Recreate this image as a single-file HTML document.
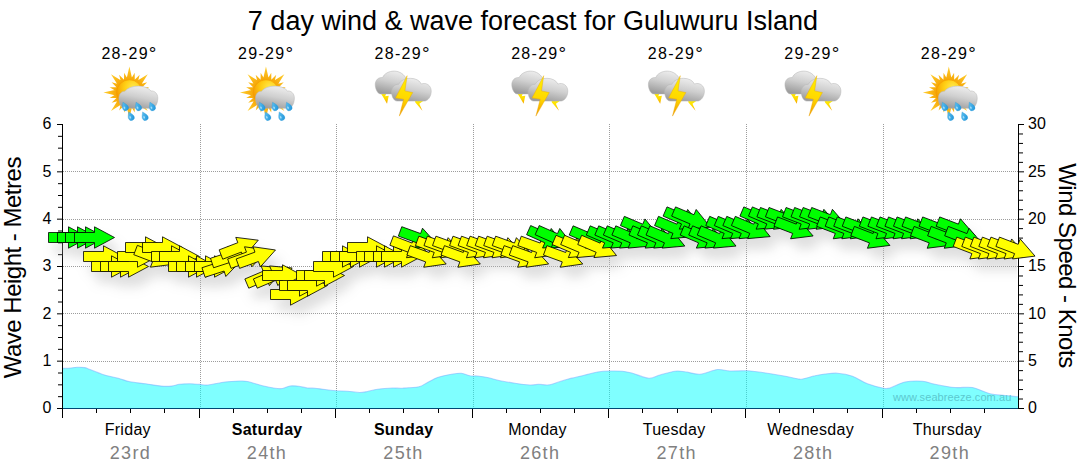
<!DOCTYPE html>
<html><head><meta charset="utf-8"><title>7 day wind &amp; wave forecast</title>
<style>
html,body{margin:0;padding:0;background:#fff}
body{width:1080px;height:475px;overflow:hidden}
svg{display:block}
text{font-family:"Liberation Sans",sans-serif}
</style></head><body>
<svg width="1080" height="475" viewBox="0 0 1080 475">
<defs>
<filter id="sh" x="-5%" y="-50%" width="110%" height="250%">
<feGaussianBlur in="SourceAlpha" stdDeviation="6" result="b"/>
<feOffset in="b" dx="6" dy="11" result="o"/>
<feComponentTransfer in="o" result="a"><feFuncA type="linear" slope="0.46"/></feComponentTransfer>
<feFlood flood-color="#b8b8b8" result="f"/>
<feComposite in="f" in2="a" operator="in"/>
</filter>
<polygon id="ar" points="-20,-5 0,-5 0,-10.7 20,0 0,10.7 0,5 -20,5" stroke="#000" stroke-linejoin="miter"/>

<linearGradient id="cg" x1="0.7" y1="0" x2="0.35" y2="1"><stop offset="0" stop-color="#f0f0f0"/><stop offset="0.5" stop-color="#cfcfcf"/><stop offset="1" stop-color="#9c9c9c"/></linearGradient>
<radialGradient id="sg" cx="0.65" cy="0.3" r="0.78"><stop offset="0" stop-color="#ffe94e"/><stop offset="0.45" stop-color="#ffcd12"/><stop offset="1" stop-color="#f28f00"/></radialGradient>
<radialGradient id="rg" cx="0.5" cy="0.5" r="0.5"><stop offset="0.4" stop-color="#f5a000"/><stop offset="1" stop-color="#ffd030"/></radialGradient>
<linearGradient id="dg" x1="0" y1="0" x2="1" y2="1"><stop offset="0" stop-color="#6ccaf4"/><stop offset="1" stop-color="#1a92da"/></linearGradient>
<linearGradient id="bg" x1="0.5" y1="0" x2="0.4" y2="1"><stop offset="0" stop-color="#fff000"/><stop offset="0.55" stop-color="#ffd800"/><stop offset="1" stop-color="#f09a00"/></linearGradient>
<g id="rain">
<path d="M132.7 81.1L129.4 66.6L126.1 81.1ZM134.8 82.1L134.7 72.8L130.0 80.8ZM137.3 83.9L139.7 74.8L133.0 81.4ZM139.9 86.8L147.8 74.2L135.2 82.1ZM140.6 89.0L147.2 82.3L138.1 84.7ZM141.2 92.0L149.2 87.3L139.9 87.2ZM140.9 95.9L155.4 92.6L140.9 89.3ZM139.9 98.0L149.2 97.9L141.2 93.2ZM138.1 100.5L147.2 102.8L140.6 96.2ZM135.2 103.1L147.8 111.0L139.9 98.4ZM133.0 103.8L139.7 110.4L137.3 101.3ZM130.0 104.4L134.7 112.4L134.8 103.1ZM126.1 104.1L129.4 118.6L132.7 104.1ZM124.0 103.1L124.1 112.4L128.8 104.4ZM121.5 101.3L119.2 110.4L125.8 103.8ZM118.9 98.4L111.0 111.0L123.6 103.1ZM118.2 96.2L111.6 102.8L120.7 100.5ZM117.6 93.2L109.6 97.9L118.9 98.0ZM117.9 89.3L103.4 92.6L117.9 95.9ZM118.9 87.2L109.6 87.3L117.6 92.0ZM120.7 84.7L111.6 82.3L118.2 89.0ZM123.6 82.1L111.0 74.2L118.9 86.8ZM125.8 81.4L119.1 74.8L121.5 83.9ZM128.8 80.8L124.1 72.8L124.0 82.1Z" fill="url(#rg)"/>
<circle cx="129.4" cy="92.6" r="12.8" fill="url(#sg)" stroke="#f39a00" stroke-width="0.6"/>
<path d="M124.5 108.3C121 108.3 118.9 102 118.9 98.5C118.9 94 121.5 91 125 91.2C127.5 88 132.5 86.1 138.4 86.1C144 86.1 148.5 88 151 91C154.5 90.5 157.8 93.5 157.8 98C157.8 104 155 108.3 151.5 108.3Z" fill="url(#cg)" stroke="#b4b4b4" stroke-width="0.5"/>
<g transform="translate(125.2,107.1) rotate(-25)"><path d="M0 -5.4C1.4 -3 3 -1.3 3 0.8A3 3 0 0 1 -3 0.8C-3 -1.3 -1.4 -3 0 -5.4Z" fill="url(#dg)" stroke="#2a94d6" stroke-width="0.3"/><ellipse cx="-0.9" cy="0.2" rx="0.8" ry="1.3" fill="#b9e6fb" opacity="0.8"/></g><g transform="translate(138.3,107.1) rotate(-25)"><path d="M0 -5.4C1.4 -3 3 -1.3 3 0.8A3 3 0 0 1 -3 0.8C-3 -1.3 -1.4 -3 0 -5.4Z" fill="url(#dg)" stroke="#2a94d6" stroke-width="0.3"/><ellipse cx="-0.9" cy="0.2" rx="0.8" ry="1.3" fill="#b9e6fb" opacity="0.8"/></g><g transform="translate(152.2,107.1) rotate(-25)"><path d="M0 -5.4C1.4 -3 3 -1.3 3 0.8A3 3 0 0 1 -3 0.8C-3 -1.3 -1.4 -3 0 -5.4Z" fill="url(#dg)" stroke="#2a94d6" stroke-width="0.3"/><ellipse cx="-0.9" cy="0.2" rx="0.8" ry="1.3" fill="#b9e6fb" opacity="0.8"/></g><g transform="translate(131.0,116.8) rotate(-25)"><path d="M0 -5.4C1.4 -3 3 -1.3 3 0.8A3 3 0 0 1 -3 0.8C-3 -1.3 -1.4 -3 0 -5.4Z" fill="url(#dg)" stroke="#2a94d6" stroke-width="0.3"/><ellipse cx="-0.9" cy="0.2" rx="0.8" ry="1.3" fill="#b9e6fb" opacity="0.8"/></g><g transform="translate(144.9,116.8) rotate(-25)"><path d="M0 -5.4C1.4 -3 3 -1.3 3 0.8A3 3 0 0 1 -3 0.8C-3 -1.3 -1.4 -3 0 -5.4Z" fill="url(#dg)" stroke="#2a94d6" stroke-width="0.3"/><ellipse cx="-0.9" cy="0.2" rx="0.8" ry="1.3" fill="#b9e6fb" opacity="0.8"/></g>
</g>
<g id="storm">
<polygon points="107.0,92.2 113.2,93.2 112.0,96.3 115.6,95.8 113.9,103.8 109.8,96.8" fill="url(#bg)"/>
<polygon points="141.8,100.5 150.0,100.9 146.2,103.7 149.3,110.8 142.2,102.4" fill="url(#bg)"/>
<path d="M107.5 93.9C104 93.9 102.1 88 102.1 84.5C102.1 80 105.5 77 109.5 77.6C111 73.5 116 71.1 121 71.1C126.5 71.1 131.5 74.5 133.5 79.5C138 79 141 82 141 86C141 90.5 138 93.9 134 93.9Z" fill="url(#cg)" stroke="#b4b4b4" stroke-width="0.5"/>
<path d="M124 101.1C120.5 101.1 118.4 96 118.4 92C118.4 87.5 121.5 84 125.5 84.3C127.5 80.5 132 78.3 137.3 78.3C142.5 78.3 146.5 80.5 148.2 84C153 82 158.1 85.5 158.1 91C158.1 97 154.5 101.1 151 101.1Z" fill="url(#cg)" stroke="#b4b4b4" stroke-width="0.5"/>
<polygon points="134.0,75.7 122.3,97.9 130.5,99.2 126.2,116.1 139.6,92.6 131.8,90.9" fill="url(#bg)" stroke="#eaa400" stroke-width="0.4"/>
</g>
</defs>
<rect width="1080" height="475" fill="#fff"/>
<text x="533" y="29.6" font-size="27" text-anchor="middle" fill="#000" id="title">7 day wind &amp; wave forecast for Guluwuru Island</text>
<text x="129.6" y="59" font-size="16" letter-spacing="1.3" text-anchor="middle" class="temp">28-29<tspan font-size="19" dy="0.7">°</tspan></text>
<use href="#rain" x="-0.01" y="0"/>
<text x="266.2" y="59" font-size="16" letter-spacing="1.3" text-anchor="middle" class="temp">29-29<tspan font-size="19" dy="0.7">°</tspan></text>
<use href="#rain" x="136.56" y="0"/>
<text x="402.7" y="59" font-size="16" letter-spacing="1.3" text-anchor="middle" class="temp">28-29<tspan font-size="19" dy="0.7">°</tspan></text>
<use href="#storm" x="273.13" y="0"/>
<text x="539.3" y="59" font-size="16" letter-spacing="1.3" text-anchor="middle" class="temp">28-29<tspan font-size="19" dy="0.7">°</tspan></text>
<use href="#storm" x="409.70" y="0"/>
<text x="675.9" y="59" font-size="16" letter-spacing="1.3" text-anchor="middle" class="temp">28-29<tspan font-size="19" dy="0.7">°</tspan></text>
<use href="#storm" x="546.27" y="0"/>
<text x="812.4" y="59" font-size="16" letter-spacing="1.3" text-anchor="middle" class="temp">29-29<tspan font-size="19" dy="0.7">°</tspan></text>
<use href="#storm" x="682.84" y="0"/>
<text x="949.0" y="59" font-size="16" letter-spacing="1.3" text-anchor="middle" class="temp">28-29<tspan font-size="19" dy="0.7">°</tspan></text>
<use href="#rain" x="819.41" y="0"/>
<g stroke="#9c9c9c" stroke-width="1" stroke-dasharray="1 1" shape-rendering="crispEdges" fill="none">
<path d="M63 361.5H1018"/>
<path d="M63 313.5H1018"/>
<path d="M63 266.5H1018"/>
<path d="M63 219.5H1018"/>
<path d="M63 171.5H1018"/>
<path d="M200.5 124V408"/>
<path d="M336.5 124V408"/>
<path d="M473.5 124V408"/>
<path d="M609.5 124V408"/>
<path d="M746.5 124V408"/>
<path d="M883.5 124V408"/>
</g>
<g stroke="#000" stroke-width="1" shape-rendering="crispEdges" fill="none">
<path d="M62.5 124V409"/>
<path d="M1018.5 124V409"/>
<path d="M62 408.5H1019"/>
</g>
<g stroke="#000" stroke-width="1" fill="none">
<path d="M57 408.5H62"/>
<path d="M58 396.67H62"/>
<path d="M58 384.83H62"/>
<path d="M58 373.0H62"/>
<path d="M57 361.17H62"/>
<path d="M58 349.33H62"/>
<path d="M58 337.5H62"/>
<path d="M58 325.67H62"/>
<path d="M57 313.83H62"/>
<path d="M58 302.0H62"/>
<path d="M58 290.17H62"/>
<path d="M58 278.33H62"/>
<path d="M57 266.5H62"/>
<path d="M58 254.67H62"/>
<path d="M58 242.83H62"/>
<path d="M58 231.0H62"/>
<path d="M57 219.17H62"/>
<path d="M58 207.33H62"/>
<path d="M58 195.5H62"/>
<path d="M58 183.67H62"/>
<path d="M57 171.83H62"/>
<path d="M58 160.0H62"/>
<path d="M58 148.17H62"/>
<path d="M58 136.33H62"/>
<path d="M57 124.5H62"/>
<path d="M1019 408.5H1024"/>
<path d="M1019 399.03H1023"/>
<path d="M1019 389.57H1023"/>
<path d="M1019 380.1H1023"/>
<path d="M1019 370.63H1023"/>
<path d="M1019 361.17H1024"/>
<path d="M1019 351.7H1023"/>
<path d="M1019 342.23H1023"/>
<path d="M1019 332.77H1023"/>
<path d="M1019 323.3H1023"/>
<path d="M1019 313.83H1024"/>
<path d="M1019 304.37H1023"/>
<path d="M1019 294.9H1023"/>
<path d="M1019 285.43H1023"/>
<path d="M1019 275.97H1023"/>
<path d="M1019 266.5H1024"/>
<path d="M1019 257.03H1023"/>
<path d="M1019 247.57H1023"/>
<path d="M1019 238.1H1023"/>
<path d="M1019 228.63H1023"/>
<path d="M1019 219.17H1024"/>
<path d="M1019 209.7H1023"/>
<path d="M1019 200.23H1023"/>
<path d="M1019 190.77H1023"/>
<path d="M1019 181.3H1023"/>
<path d="M1019 171.83H1024"/>
<path d="M1019 162.37H1023"/>
<path d="M1019 152.9H1023"/>
<path d="M1019 143.43H1023"/>
<path d="M1019 133.97H1023"/>
<path d="M1019 124.5H1024"/>
<path d="M62.5 408V418" shape-rendering="crispEdges"/>
<path d="M96.5 408V413" shape-rendering="crispEdges"/>
<path d="M130.5 408V413" shape-rendering="crispEdges"/>
<path d="M164.5 408V413" shape-rendering="crispEdges"/>
<path d="M199.5 408V418" shape-rendering="crispEdges"/>
<path d="M233.5 408V413" shape-rendering="crispEdges"/>
<path d="M267.5 408V413" shape-rendering="crispEdges"/>
<path d="M301.5 408V413" shape-rendering="crispEdges"/>
<path d="M335.5 408V418" shape-rendering="crispEdges"/>
<path d="M369.5 408V413" shape-rendering="crispEdges"/>
<path d="M403.5 408V413" shape-rendering="crispEdges"/>
<path d="M438.5 408V413" shape-rendering="crispEdges"/>
<path d="M472.5 408V418" shape-rendering="crispEdges"/>
<path d="M506.5 408V413" shape-rendering="crispEdges"/>
<path d="M540.5 408V413" shape-rendering="crispEdges"/>
<path d="M574.5 408V413" shape-rendering="crispEdges"/>
<path d="M608.5 408V418" shape-rendering="crispEdges"/>
<path d="M642.5 408V413" shape-rendering="crispEdges"/>
<path d="M677.5 408V413" shape-rendering="crispEdges"/>
<path d="M711.5 408V413" shape-rendering="crispEdges"/>
<path d="M745.5 408V418" shape-rendering="crispEdges"/>
<path d="M779.5 408V413" shape-rendering="crispEdges"/>
<path d="M813.5 408V413" shape-rendering="crispEdges"/>
<path d="M847.5 408V413" shape-rendering="crispEdges"/>
<path d="M882.5 408V418" shape-rendering="crispEdges"/>
<path d="M916.5 408V413" shape-rendering="crispEdges"/>
<path d="M950.5 408V413" shape-rendering="crispEdges"/>
<path d="M984.5 408V413" shape-rendering="crispEdges"/>
</g>
<path d="M63.0 368.4C64.2 368.3 68.1 368.2 70.4 368.0C72.7 367.8 74.5 367.4 76.9 367.3C79.3 367.2 82.7 367.3 84.6 367.6C86.5 367.9 85.5 367.8 88.5 368.9C91.5 370.0 97.8 372.8 102.8 374.4C107.8 376.0 113.8 377.1 118.3 378.3C122.8 379.5 125.5 380.9 130.0 381.8C134.6 382.7 140.4 383.1 145.6 383.8C150.8 384.5 156.8 385.7 161.1 386.1C165.4 386.5 168.5 386.4 171.5 386.1C174.5 385.8 176.3 384.7 179.3 384.3C182.3 383.9 186.2 383.8 189.6 383.8C193.0 383.8 196.9 384.2 200.0 384.4C203.1 384.6 203.8 385.4 208.0 385.0C212.2 384.6 219.7 382.7 225.0 382.0C230.3 381.3 236.2 381.1 240.0 381.0C243.8 380.9 243.8 380.7 247.5 381.5C251.2 382.3 257.9 384.6 262.5 385.8C267.1 386.9 271.7 387.8 275.0 388.2C278.3 388.7 280.0 388.9 282.5 388.5C285.0 388.1 287.3 386.4 290.0 386.0C292.7 385.6 295.8 385.9 298.8 386.2C301.7 386.6 304.8 387.7 307.5 388.0C310.2 388.3 312.1 388.0 315.0 388.2C317.9 388.5 321.5 389.1 325.0 389.5C328.5 389.9 332.5 390.5 336.2 390.8C340.0 391.0 343.5 391.0 347.5 391.2C351.5 391.5 356.7 392.5 360.0 392.5C363.3 392.5 364.6 392.0 367.5 391.5C370.4 391.0 373.3 389.8 377.5 389.2C381.7 388.7 388.3 388.2 392.5 388.0C396.7 387.8 398.1 388.5 402.5 388.2C406.9 388.0 414.6 387.7 418.8 386.8C422.9 385.8 424.4 384.0 427.5 382.5C430.6 381.0 433.8 378.8 437.5 377.5C441.2 376.2 446.0 375.2 450.0 374.5C454.0 373.8 457.9 373.0 461.2 373.2C464.6 373.5 467.3 375.3 470.0 375.8C472.7 376.2 474.6 375.7 477.5 376.0C480.4 376.3 483.8 376.7 487.5 377.5C491.2 378.3 495.4 379.8 500.0 380.8C504.6 381.7 510.0 382.5 515.0 383.2C520.0 384.0 526.0 384.8 530.0 385.0C534.0 385.2 535.8 384.2 538.8 384.2C541.7 384.2 544.8 385.2 547.5 385.0C550.2 384.8 551.7 384.2 555.0 383.2C558.3 382.3 564.2 380.2 567.5 379.2C570.8 378.3 572.1 378.2 575.0 377.5C577.9 376.8 581.2 375.9 585.0 375.0C588.8 374.1 593.3 372.7 597.5 372.0C601.7 371.3 605.8 371.1 610.0 371.0C614.2 370.9 618.8 370.9 622.5 371.2C626.2 371.6 628.1 372.1 632.5 373.2C636.9 374.4 644.2 378.0 648.8 378.2C653.3 378.5 655.6 376.2 660.0 375.0C664.4 373.8 670.8 371.8 675.0 371.2C679.2 370.7 680.8 371.2 685.0 371.8C689.2 372.2 694.6 374.6 700.0 374.2C705.4 373.9 712.5 370.0 717.5 369.5C722.5 369.0 725.0 370.8 730.0 371.0C735.0 371.2 742.1 370.5 747.5 370.8C752.9 371.0 756.7 371.7 762.5 372.5C768.3 373.3 776.7 374.7 782.5 375.8C788.3 376.8 794.2 378.2 797.5 378.8C800.8 379.3 799.6 379.5 802.5 379.0C805.4 378.5 811.2 376.6 815.0 375.8C818.8 374.9 821.2 374.4 825.0 374.0C828.8 373.6 832.9 372.9 837.5 373.2C842.1 373.6 847.5 374.5 852.5 376.2C857.5 378.0 862.5 381.8 867.5 383.8C872.5 385.7 878.8 387.3 882.5 388.0C886.2 388.7 886.2 389.0 890.0 388.0C893.8 387.0 899.6 383.1 905.0 382.0C910.4 380.9 917.5 380.9 922.5 381.2C927.5 381.6 929.6 383.2 935.0 384.2C940.4 385.3 948.8 387.0 955.0 387.5C961.2 388.0 966.7 386.5 972.5 387.5C978.3 388.5 984.6 392.4 990.0 393.8C995.4 395.1 1000.3 395.0 1005.0 395.5C1009.7 396.0 1015.8 396.5 1018.0 396.8L1018 408.5L63 408.5Z" fill="#00ffff" fill-opacity="0.5" stroke="none"/>
<path d="M63.0 368.4C64.2 368.3 68.1 368.2 70.4 368.0C72.7 367.8 74.5 367.4 76.9 367.3C79.3 367.2 82.7 367.3 84.6 367.6C86.5 367.9 85.5 367.8 88.5 368.9C91.5 370.0 97.8 372.8 102.8 374.4C107.8 376.0 113.8 377.1 118.3 378.3C122.8 379.5 125.5 380.9 130.0 381.8C134.6 382.7 140.4 383.1 145.6 383.8C150.8 384.5 156.8 385.7 161.1 386.1C165.4 386.5 168.5 386.4 171.5 386.1C174.5 385.8 176.3 384.7 179.3 384.3C182.3 383.9 186.2 383.8 189.6 383.8C193.0 383.8 196.9 384.2 200.0 384.4C203.1 384.6 203.8 385.4 208.0 385.0C212.2 384.6 219.7 382.7 225.0 382.0C230.3 381.3 236.2 381.1 240.0 381.0C243.8 380.9 243.8 380.7 247.5 381.5C251.2 382.3 257.9 384.6 262.5 385.8C267.1 386.9 271.7 387.8 275.0 388.2C278.3 388.7 280.0 388.9 282.5 388.5C285.0 388.1 287.3 386.4 290.0 386.0C292.7 385.6 295.8 385.9 298.8 386.2C301.7 386.6 304.8 387.7 307.5 388.0C310.2 388.3 312.1 388.0 315.0 388.2C317.9 388.5 321.5 389.1 325.0 389.5C328.5 389.9 332.5 390.5 336.2 390.8C340.0 391.0 343.5 391.0 347.5 391.2C351.5 391.5 356.7 392.5 360.0 392.5C363.3 392.5 364.6 392.0 367.5 391.5C370.4 391.0 373.3 389.8 377.5 389.2C381.7 388.7 388.3 388.2 392.5 388.0C396.7 387.8 398.1 388.5 402.5 388.2C406.9 388.0 414.6 387.7 418.8 386.8C422.9 385.8 424.4 384.0 427.5 382.5C430.6 381.0 433.8 378.8 437.5 377.5C441.2 376.2 446.0 375.2 450.0 374.5C454.0 373.8 457.9 373.0 461.2 373.2C464.6 373.5 467.3 375.3 470.0 375.8C472.7 376.2 474.6 375.7 477.5 376.0C480.4 376.3 483.8 376.7 487.5 377.5C491.2 378.3 495.4 379.8 500.0 380.8C504.6 381.7 510.0 382.5 515.0 383.2C520.0 384.0 526.0 384.8 530.0 385.0C534.0 385.2 535.8 384.2 538.8 384.2C541.7 384.2 544.8 385.2 547.5 385.0C550.2 384.8 551.7 384.2 555.0 383.2C558.3 382.3 564.2 380.2 567.5 379.2C570.8 378.3 572.1 378.2 575.0 377.5C577.9 376.8 581.2 375.9 585.0 375.0C588.8 374.1 593.3 372.7 597.5 372.0C601.7 371.3 605.8 371.1 610.0 371.0C614.2 370.9 618.8 370.9 622.5 371.2C626.2 371.6 628.1 372.1 632.5 373.2C636.9 374.4 644.2 378.0 648.8 378.2C653.3 378.5 655.6 376.2 660.0 375.0C664.4 373.8 670.8 371.8 675.0 371.2C679.2 370.7 680.8 371.2 685.0 371.8C689.2 372.2 694.6 374.6 700.0 374.2C705.4 373.9 712.5 370.0 717.5 369.5C722.5 369.0 725.0 370.8 730.0 371.0C735.0 371.2 742.1 370.5 747.5 370.8C752.9 371.0 756.7 371.7 762.5 372.5C768.3 373.3 776.7 374.7 782.5 375.8C788.3 376.8 794.2 378.2 797.5 378.8C800.8 379.3 799.6 379.5 802.5 379.0C805.4 378.5 811.2 376.6 815.0 375.8C818.8 374.9 821.2 374.4 825.0 374.0C828.8 373.6 832.9 372.9 837.5 373.2C842.1 373.6 847.5 374.5 852.5 376.2C857.5 378.0 862.5 381.8 867.5 383.8C872.5 385.7 878.8 387.3 882.5 388.0C886.2 388.7 886.2 389.0 890.0 388.0C893.8 387.0 899.6 383.1 905.0 382.0C910.4 380.9 917.5 380.9 922.5 381.2C927.5 381.6 929.6 383.2 935.0 384.2C940.4 385.3 948.8 387.0 955.0 387.5C961.2 388.0 966.7 386.5 972.5 387.5C978.3 388.5 984.6 392.4 990.0 393.8C995.4 395.1 1000.3 395.0 1005.0 395.5C1009.7 396.0 1015.8 396.5 1018.0 396.8" fill="none" stroke="#7aa8ff" stroke-opacity="0.5" stroke-width="1.1"/>
<path d="M63 408.5H1018" stroke="#0050a0" stroke-opacity="0.55" shape-rendering="crispEdges"/>
<text x="893" y="401" font-size="11" fill="#5cc9cf" id="wm" letter-spacing="0.08">www.seabreeze.com.au</text>
<text x="51.5" y="413.2" font-size="16" text-anchor="end">0</text>
<text x="51.5" y="365.9" font-size="16" text-anchor="end">1</text>
<text x="51.5" y="318.5" font-size="16" text-anchor="end">2</text>
<text x="51.5" y="271.2" font-size="16" text-anchor="end">3</text>
<text x="51.5" y="223.9" font-size="16" text-anchor="end">4</text>
<text x="51.5" y="176.5" font-size="16" text-anchor="end">5</text>
<text x="51.5" y="129.2" font-size="16" text-anchor="end">6</text>
<text x="1028" y="413.2" font-size="16">0</text>
<text x="1028" y="365.9" font-size="16">5</text>
<text x="1028" y="318.5" font-size="16">10</text>
<text x="1028" y="271.2" font-size="16">15</text>
<text x="1028" y="223.9" font-size="16">20</text>
<text x="1028" y="176.5" font-size="16">25</text>
<text x="1028" y="129.2" font-size="16">30</text>
<text x="127.8" y="435" font-size="16" text-anchor="middle" letter-spacing="0.3" class="day">Friday</text>
<text x="130.4" y="459" font-size="18" text-anchor="middle" fill="#808080" letter-spacing="1.35" class="dnum">23rd</text>
<text x="267.1" y="435" font-size="16" text-anchor="middle" font-weight="bold" letter-spacing="0.3" class="day">Saturday</text>
<text x="267.0" y="459" font-size="18" text-anchor="middle" fill="#808080" letter-spacing="1.35" class="dnum">24th</text>
<text x="403.7" y="435" font-size="16" text-anchor="middle" font-weight="bold" letter-spacing="0.3" class="day">Sunday</text>
<text x="403.5" y="459" font-size="18" text-anchor="middle" fill="#808080" letter-spacing="1.35" class="dnum">25th</text>
<text x="537.5" y="435" font-size="16" text-anchor="middle" letter-spacing="0.3" class="day">Monday</text>
<text x="540.1" y="459" font-size="18" text-anchor="middle" fill="#808080" letter-spacing="1.35" class="dnum">26th</text>
<text x="674.1" y="435" font-size="16" text-anchor="middle" letter-spacing="0.3" class="day">Tuesday</text>
<text x="676.7" y="459" font-size="18" text-anchor="middle" fill="#808080" letter-spacing="1.35" class="dnum">27th</text>
<text x="810.6" y="435" font-size="16" text-anchor="middle" letter-spacing="0.3" class="day">Wednesday</text>
<text x="813.2" y="459" font-size="18" text-anchor="middle" fill="#808080" letter-spacing="1.35" class="dnum">28th</text>
<text x="947.2" y="435" font-size="16" text-anchor="middle" letter-spacing="0.3" class="day">Thursday</text>
<text x="949.8" y="459" font-size="18" text-anchor="middle" fill="#808080" letter-spacing="1.35" class="dnum">29th</text>
<text transform="translate(20.5,267.7) rotate(-90)" font-size="24" letter-spacing="-0.5" text-anchor="middle" id="ly">Wave Height - Metres</text>
<text transform="translate(1058.5,265.4) rotate(90)" font-size="24" letter-spacing="-0.5" text-anchor="middle" id="ry">Wind Speed - Knots</text>
<clipPath id="cp"><rect x="0" y="100" width="1017" height="320"/></clipPath>
<g clip-path="url(#cp)"><g filter="url(#sh)" stroke-width="0.9">
<use href="#ar" transform="translate(68.50,237.50) rotate(0)" fill="#00ff00"/>
<use href="#ar" transform="translate(77.50,237.50) rotate(0)" fill="#00ff00"/>
<use href="#ar" transform="translate(85.50,237.50) rotate(0)" fill="#00ff00"/>
<use href="#ar" transform="translate(94.50,237.50) rotate(0)" fill="#00ff00"/>
<use href="#ar" transform="translate(103.50,256.50) rotate(0)" fill="#ffff00"/>
<use href="#ar" transform="translate(111.50,266.50) rotate(0)" fill="#ffff00"/>
<use href="#ar" transform="translate(120.50,266.50) rotate(0)" fill="#ffff00"/>
<use href="#ar" transform="translate(128.50,266.50) rotate(0)" fill="#ffff00"/>
<use href="#ar" transform="translate(137.50,256.50) rotate(0)" fill="#ffff00"/>
<use href="#ar" transform="translate(145.50,247.50) rotate(0)" fill="#ffff00"/>
<use href="#ar" transform="translate(154.26,257.18) rotate(21)" fill="#ffff00" stroke-width="0.75"/>
<use href="#ar" transform="translate(162.50,247.50) rotate(0)" fill="#ffff00"/>
<use href="#ar" transform="translate(171.50,256.50) rotate(0)" fill="#ffff00"/>
<use href="#ar" transform="translate(179.50,256.50) rotate(0)" fill="#ffff00"/>
<use href="#ar" transform="translate(188.50,266.50) rotate(0)" fill="#ffff00"/>
<use href="#ar" transform="translate(196.50,266.50) rotate(0)" fill="#ffff00"/>
<use href="#ar" transform="translate(205.50,266.50) rotate(0)" fill="#ffff00"/>
<use href="#ar" transform="translate(214.50,266.50) rotate(0)" fill="#ffff00"/>
<use href="#ar" transform="translate(222.54,266.30) rotate(-18)" fill="#ffff00" stroke-width="0.75"/>
<use href="#ar" transform="translate(231.08,256.83) rotate(-18)" fill="#ffff00" stroke-width="0.75"/>
<use href="#ar" transform="translate(239.61,247.37) rotate(-21)" fill="#ffff00" stroke-width="0.75"/>
<use href="#ar" transform="translate(248.15,256.83) rotate(-20)" fill="#ffff00" stroke-width="0.75"/>
<use href="#ar" transform="translate(256.69,256.83) rotate(-20)" fill="#ffff00" stroke-width="0.75"/>
<use href="#ar" transform="translate(265.22,275.77) rotate(-23)" fill="#ffff00" stroke-width="0.75"/>
<use href="#ar" transform="translate(273.76,275.77) rotate(-23)" fill="#ffff00" stroke-width="0.75"/>
<use href="#ar" transform="translate(282.50,275.50) rotate(0)" fill="#ffff00"/>
<use href="#ar" transform="translate(290.50,294.50) rotate(0)" fill="#ffff00"/>
<use href="#ar" transform="translate(299.50,285.50) rotate(0)" fill="#ffff00"/>
<use href="#ar" transform="translate(307.50,285.50) rotate(0)" fill="#ffff00"/>
<use href="#ar" transform="translate(316.50,275.50) rotate(0)" fill="#ffff00"/>
<use href="#ar" transform="translate(324.50,275.50) rotate(0)" fill="#ffff00"/>
<use href="#ar" transform="translate(333.50,266.50) rotate(0)" fill="#ffff00"/>
<use href="#ar" transform="translate(342.50,256.50) rotate(0)" fill="#ffff00"/>
<use href="#ar" transform="translate(350.50,256.50) rotate(0)" fill="#ffff00"/>
<use href="#ar" transform="translate(359.50,256.50) rotate(0)" fill="#ffff00"/>
<use href="#ar" transform="translate(367.50,247.50) rotate(0)" fill="#ffff00"/>
<use href="#ar" transform="translate(376.50,256.50) rotate(0)" fill="#ffff00"/>
<use href="#ar" transform="translate(384.50,256.50) rotate(0)" fill="#ffff00"/>
<use href="#ar" transform="translate(393.50,256.50) rotate(0)" fill="#ffff00"/>
<use href="#ar" transform="translate(401.50,256.50) rotate(0)" fill="#ffff00"/>
<use href="#ar" transform="translate(410.33,247.72) rotate(21)" fill="#ffff00" stroke-width="0.75"/>
<use href="#ar" transform="translate(418.86,238.25) rotate(20)" fill="#00ff00" stroke-width="0.75"/>
<use href="#ar" transform="translate(427.40,257.18) rotate(20)" fill="#ffff00" stroke-width="0.75"/>
<use href="#ar" transform="translate(435.94,247.72) rotate(20)" fill="#ffff00" stroke-width="0.75"/>
<use href="#ar" transform="translate(444.47,247.72) rotate(20)" fill="#ffff00" stroke-width="0.75"/>
<use href="#ar" transform="translate(453.01,247.72) rotate(20)" fill="#ffff00" stroke-width="0.75"/>
<use href="#ar" transform="translate(461.54,257.18) rotate(20)" fill="#ffff00" stroke-width="0.75"/>
<use href="#ar" transform="translate(470.08,247.72) rotate(20)" fill="#ffff00" stroke-width="0.75"/>
<use href="#ar" transform="translate(478.61,247.72) rotate(20)" fill="#ffff00" stroke-width="0.75"/>
<use href="#ar" transform="translate(487.15,247.72) rotate(20)" fill="#ffff00" stroke-width="0.75"/>
<use href="#ar" transform="translate(495.69,247.72) rotate(20)" fill="#ffff00" stroke-width="0.75"/>
<use href="#ar" transform="translate(504.22,247.72) rotate(20)" fill="#ffff00" stroke-width="0.75"/>
<use href="#ar" transform="translate(512.76,247.72) rotate(20)" fill="#ffff00" stroke-width="0.75"/>
<use href="#ar" transform="translate(521.29,257.18) rotate(20)" fill="#ffff00" stroke-width="0.75"/>
<use href="#ar" transform="translate(529.83,257.18) rotate(20)" fill="#ffff00" stroke-width="0.75"/>
<use href="#ar" transform="translate(538.36,247.72) rotate(20)" fill="#ffff00" stroke-width="0.75"/>
<use href="#ar" transform="translate(546.90,238.25) rotate(24)" fill="#00ff00" stroke-width="0.75"/>
<use href="#ar" transform="translate(555.44,238.25) rotate(24)" fill="#00ff00" stroke-width="0.75"/>
<use href="#ar" transform="translate(563.97,257.18) rotate(20)" fill="#ffff00" stroke-width="0.75"/>
<use href="#ar" transform="translate(572.51,247.72) rotate(23)" fill="#ffff00" stroke-width="0.75"/>
<use href="#ar" transform="translate(581.04,247.72) rotate(23)" fill="#ffff00" stroke-width="0.75"/>
<use href="#ar" transform="translate(589.58,238.25) rotate(23)" fill="#00ff00" stroke-width="0.75"/>
<use href="#ar" transform="translate(598.11,247.72) rotate(23)" fill="#ffff00" stroke-width="0.75"/>
<use href="#ar" transform="translate(606.65,238.25) rotate(23)" fill="#00ff00" stroke-width="0.75"/>
<use href="#ar" transform="translate(615.19,238.25) rotate(23)" fill="#00ff00" stroke-width="0.75"/>
<use href="#ar" transform="translate(623.72,238.25) rotate(23)" fill="#00ff00" stroke-width="0.75"/>
<use href="#ar" transform="translate(632.26,238.25) rotate(23)" fill="#00ff00" stroke-width="0.75"/>
<use href="#ar" transform="translate(640.79,228.78) rotate(23)" fill="#00ff00" stroke-width="0.75"/>
<use href="#ar" transform="translate(649.33,238.25) rotate(23)" fill="#00ff00" stroke-width="0.75"/>
<use href="#ar" transform="translate(657.86,238.25) rotate(23)" fill="#00ff00" stroke-width="0.75"/>
<use href="#ar" transform="translate(666.40,238.25) rotate(23)" fill="#00ff00" stroke-width="0.75"/>
<use href="#ar" transform="translate(674.94,228.78) rotate(23)" fill="#00ff00" stroke-width="0.75"/>
<use href="#ar" transform="translate(683.47,219.32) rotate(23)" fill="#00ff00" stroke-width="0.75"/>
<use href="#ar" transform="translate(692.01,219.32) rotate(23)" fill="#00ff00" stroke-width="0.75"/>
<use href="#ar" transform="translate(700.54,238.25) rotate(23)" fill="#00ff00" stroke-width="0.75"/>
<use href="#ar" transform="translate(709.08,238.25) rotate(23)" fill="#00ff00" stroke-width="0.75"/>
<use href="#ar" transform="translate(717.61,238.25) rotate(23)" fill="#00ff00" stroke-width="0.75"/>
<use href="#ar" transform="translate(726.15,228.78) rotate(23)" fill="#00ff00" stroke-width="0.75"/>
<use href="#ar" transform="translate(734.69,228.78) rotate(23)" fill="#00ff00" stroke-width="0.75"/>
<use href="#ar" transform="translate(743.22,228.78) rotate(23)" fill="#00ff00" stroke-width="0.75"/>
<use href="#ar" transform="translate(751.76,228.78) rotate(23)" fill="#00ff00" stroke-width="0.75"/>
<use href="#ar" transform="translate(760.29,219.32) rotate(23)" fill="#00ff00" stroke-width="0.75"/>
<use href="#ar" transform="translate(768.83,219.32) rotate(23)" fill="#00ff00" stroke-width="0.75"/>
<use href="#ar" transform="translate(777.36,219.32) rotate(21)" fill="#00ff00" stroke-width="0.75"/>
<use href="#ar" transform="translate(785.90,219.32) rotate(21)" fill="#00ff00" stroke-width="0.75"/>
<use href="#ar" transform="translate(794.44,228.78) rotate(21)" fill="#00ff00" stroke-width="0.75"/>
<use href="#ar" transform="translate(802.97,219.32) rotate(21)" fill="#00ff00" stroke-width="0.75"/>
<use href="#ar" transform="translate(811.51,219.32) rotate(21)" fill="#00ff00" stroke-width="0.75"/>
<use href="#ar" transform="translate(820.04,219.32) rotate(21)" fill="#00ff00" stroke-width="0.75"/>
<use href="#ar" transform="translate(828.58,219.32) rotate(21)" fill="#00ff00" stroke-width="0.75"/>
<use href="#ar" transform="translate(837.11,228.78) rotate(21)" fill="#00ff00" stroke-width="0.75"/>
<use href="#ar" transform="translate(845.65,228.78) rotate(21)" fill="#00ff00" stroke-width="0.75"/>
<use href="#ar" transform="translate(854.19,228.78) rotate(21)" fill="#00ff00" stroke-width="0.75"/>
<use href="#ar" transform="translate(862.72,228.78) rotate(21)" fill="#00ff00" stroke-width="0.75"/>
<use href="#ar" transform="translate(871.26,238.25) rotate(21)" fill="#00ff00" stroke-width="0.75"/>
<use href="#ar" transform="translate(879.79,228.78) rotate(21)" fill="#00ff00" stroke-width="0.75"/>
<use href="#ar" transform="translate(888.33,228.78) rotate(21)" fill="#00ff00" stroke-width="0.75"/>
<use href="#ar" transform="translate(896.86,228.78) rotate(21)" fill="#00ff00" stroke-width="0.75"/>
<use href="#ar" transform="translate(905.40,228.78) rotate(21)" fill="#00ff00" stroke-width="0.75"/>
<use href="#ar" transform="translate(913.94,228.78) rotate(21)" fill="#00ff00" stroke-width="0.75"/>
<use href="#ar" transform="translate(922.47,228.78) rotate(21)" fill="#00ff00" stroke-width="0.75"/>
<use href="#ar" transform="translate(931.01,238.25) rotate(21)" fill="#00ff00" stroke-width="0.75"/>
<use href="#ar" transform="translate(939.54,228.78) rotate(21)" fill="#00ff00" stroke-width="0.75"/>
<use href="#ar" transform="translate(948.08,238.25) rotate(21)" fill="#00ff00" stroke-width="0.75"/>
<use href="#ar" transform="translate(956.61,228.78) rotate(21)" fill="#00ff00" stroke-width="0.75"/>
<use href="#ar" transform="translate(965.15,238.25) rotate(21)" fill="#00ff00" stroke-width="0.75"/>
<use href="#ar" transform="translate(973.69,248.95) rotate(21)" fill="#ffff00" stroke-width="0.75"/>
<use href="#ar" transform="translate(982.22,248.95) rotate(21)" fill="#ffff00" stroke-width="0.75"/>
<use href="#ar" transform="translate(990.76,248.95) rotate(21)" fill="#ffff00" stroke-width="0.75"/>
<use href="#ar" transform="translate(999.29,248.95) rotate(21)" fill="#ffff00" stroke-width="0.75"/>
<use href="#ar" transform="translate(1007.83,248.95) rotate(21)" fill="#ffff00" stroke-width="0.75"/>
<use href="#ar" transform="translate(1016.36,248.95) rotate(21)" fill="#ffff00" stroke-width="0.75"/>
</g></g>
<g stroke-width="0.8">
<use href="#ar" transform="translate(68.50,237.50) rotate(0)" fill="#00ff00"/>
<use href="#ar" transform="translate(77.50,237.50) rotate(0)" fill="#00ff00"/>
<use href="#ar" transform="translate(85.50,237.50) rotate(0)" fill="#00ff00"/>
<use href="#ar" transform="translate(94.50,237.50) rotate(0)" fill="#00ff00"/>
<use href="#ar" transform="translate(103.50,256.50) rotate(0)" fill="#ffff00"/>
<use href="#ar" transform="translate(111.50,266.50) rotate(0)" fill="#ffff00"/>
<use href="#ar" transform="translate(120.50,266.50) rotate(0)" fill="#ffff00"/>
<use href="#ar" transform="translate(128.50,266.50) rotate(0)" fill="#ffff00"/>
<use href="#ar" transform="translate(137.50,256.50) rotate(0)" fill="#ffff00"/>
<use href="#ar" transform="translate(145.50,247.50) rotate(0)" fill="#ffff00"/>
<use href="#ar" transform="translate(154.26,257.18) rotate(21)" fill="#ffff00" stroke-width="0.75"/>
<use href="#ar" transform="translate(162.50,247.50) rotate(0)" fill="#ffff00"/>
<use href="#ar" transform="translate(171.50,256.50) rotate(0)" fill="#ffff00"/>
<use href="#ar" transform="translate(179.50,256.50) rotate(0)" fill="#ffff00"/>
<use href="#ar" transform="translate(188.50,266.50) rotate(0)" fill="#ffff00"/>
<use href="#ar" transform="translate(196.50,266.50) rotate(0)" fill="#ffff00"/>
<use href="#ar" transform="translate(205.50,266.50) rotate(0)" fill="#ffff00"/>
<use href="#ar" transform="translate(214.50,266.50) rotate(0)" fill="#ffff00"/>
<use href="#ar" transform="translate(222.54,266.30) rotate(-18)" fill="#ffff00" stroke-width="0.75"/>
<use href="#ar" transform="translate(231.08,256.83) rotate(-18)" fill="#ffff00" stroke-width="0.75"/>
<use href="#ar" transform="translate(239.61,247.37) rotate(-21)" fill="#ffff00" stroke-width="0.75"/>
<use href="#ar" transform="translate(248.15,256.83) rotate(-20)" fill="#ffff00" stroke-width="0.75"/>
<use href="#ar" transform="translate(256.69,256.83) rotate(-20)" fill="#ffff00" stroke-width="0.75"/>
<use href="#ar" transform="translate(265.22,275.77) rotate(-23)" fill="#ffff00" stroke-width="0.75"/>
<use href="#ar" transform="translate(273.76,275.77) rotate(-23)" fill="#ffff00" stroke-width="0.75"/>
<use href="#ar" transform="translate(282.50,275.50) rotate(0)" fill="#ffff00"/>
<use href="#ar" transform="translate(290.50,294.50) rotate(0)" fill="#ffff00"/>
<use href="#ar" transform="translate(299.50,285.50) rotate(0)" fill="#ffff00"/>
<use href="#ar" transform="translate(307.50,285.50) rotate(0)" fill="#ffff00"/>
<use href="#ar" transform="translate(316.50,275.50) rotate(0)" fill="#ffff00"/>
<use href="#ar" transform="translate(324.50,275.50) rotate(0)" fill="#ffff00"/>
<use href="#ar" transform="translate(333.50,266.50) rotate(0)" fill="#ffff00"/>
<use href="#ar" transform="translate(342.50,256.50) rotate(0)" fill="#ffff00"/>
<use href="#ar" transform="translate(350.50,256.50) rotate(0)" fill="#ffff00"/>
<use href="#ar" transform="translate(359.50,256.50) rotate(0)" fill="#ffff00"/>
<use href="#ar" transform="translate(367.50,247.50) rotate(0)" fill="#ffff00"/>
<use href="#ar" transform="translate(376.50,256.50) rotate(0)" fill="#ffff00"/>
<use href="#ar" transform="translate(384.50,256.50) rotate(0)" fill="#ffff00"/>
<use href="#ar" transform="translate(393.50,256.50) rotate(0)" fill="#ffff00"/>
<use href="#ar" transform="translate(401.50,256.50) rotate(0)" fill="#ffff00"/>
<use href="#ar" transform="translate(410.33,247.72) rotate(21)" fill="#ffff00" stroke-width="0.75"/>
<use href="#ar" transform="translate(418.86,238.25) rotate(20)" fill="#00ff00" stroke-width="0.75"/>
<use href="#ar" transform="translate(427.40,257.18) rotate(20)" fill="#ffff00" stroke-width="0.75"/>
<use href="#ar" transform="translate(435.94,247.72) rotate(20)" fill="#ffff00" stroke-width="0.75"/>
<use href="#ar" transform="translate(444.47,247.72) rotate(20)" fill="#ffff00" stroke-width="0.75"/>
<use href="#ar" transform="translate(453.01,247.72) rotate(20)" fill="#ffff00" stroke-width="0.75"/>
<use href="#ar" transform="translate(461.54,257.18) rotate(20)" fill="#ffff00" stroke-width="0.75"/>
<use href="#ar" transform="translate(470.08,247.72) rotate(20)" fill="#ffff00" stroke-width="0.75"/>
<use href="#ar" transform="translate(478.61,247.72) rotate(20)" fill="#ffff00" stroke-width="0.75"/>
<use href="#ar" transform="translate(487.15,247.72) rotate(20)" fill="#ffff00" stroke-width="0.75"/>
<use href="#ar" transform="translate(495.69,247.72) rotate(20)" fill="#ffff00" stroke-width="0.75"/>
<use href="#ar" transform="translate(504.22,247.72) rotate(20)" fill="#ffff00" stroke-width="0.75"/>
<use href="#ar" transform="translate(512.76,247.72) rotate(20)" fill="#ffff00" stroke-width="0.75"/>
<use href="#ar" transform="translate(521.29,257.18) rotate(20)" fill="#ffff00" stroke-width="0.75"/>
<use href="#ar" transform="translate(529.83,257.18) rotate(20)" fill="#ffff00" stroke-width="0.75"/>
<use href="#ar" transform="translate(538.36,247.72) rotate(20)" fill="#ffff00" stroke-width="0.75"/>
<use href="#ar" transform="translate(546.90,238.25) rotate(24)" fill="#00ff00" stroke-width="0.75"/>
<use href="#ar" transform="translate(555.44,238.25) rotate(24)" fill="#00ff00" stroke-width="0.75"/>
<use href="#ar" transform="translate(563.97,257.18) rotate(20)" fill="#ffff00" stroke-width="0.75"/>
<use href="#ar" transform="translate(572.51,247.72) rotate(23)" fill="#ffff00" stroke-width="0.75"/>
<use href="#ar" transform="translate(581.04,247.72) rotate(23)" fill="#ffff00" stroke-width="0.75"/>
<use href="#ar" transform="translate(589.58,238.25) rotate(23)" fill="#00ff00" stroke-width="0.75"/>
<use href="#ar" transform="translate(598.11,247.72) rotate(23)" fill="#ffff00" stroke-width="0.75"/>
<use href="#ar" transform="translate(606.65,238.25) rotate(23)" fill="#00ff00" stroke-width="0.75"/>
<use href="#ar" transform="translate(615.19,238.25) rotate(23)" fill="#00ff00" stroke-width="0.75"/>
<use href="#ar" transform="translate(623.72,238.25) rotate(23)" fill="#00ff00" stroke-width="0.75"/>
<use href="#ar" transform="translate(632.26,238.25) rotate(23)" fill="#00ff00" stroke-width="0.75"/>
<use href="#ar" transform="translate(640.79,228.78) rotate(23)" fill="#00ff00" stroke-width="0.75"/>
<use href="#ar" transform="translate(649.33,238.25) rotate(23)" fill="#00ff00" stroke-width="0.75"/>
<use href="#ar" transform="translate(657.86,238.25) rotate(23)" fill="#00ff00" stroke-width="0.75"/>
<use href="#ar" transform="translate(666.40,238.25) rotate(23)" fill="#00ff00" stroke-width="0.75"/>
<use href="#ar" transform="translate(674.94,228.78) rotate(23)" fill="#00ff00" stroke-width="0.75"/>
<use href="#ar" transform="translate(683.47,219.32) rotate(23)" fill="#00ff00" stroke-width="0.75"/>
<use href="#ar" transform="translate(692.01,219.32) rotate(23)" fill="#00ff00" stroke-width="0.75"/>
<use href="#ar" transform="translate(700.54,238.25) rotate(23)" fill="#00ff00" stroke-width="0.75"/>
<use href="#ar" transform="translate(709.08,238.25) rotate(23)" fill="#00ff00" stroke-width="0.75"/>
<use href="#ar" transform="translate(717.61,238.25) rotate(23)" fill="#00ff00" stroke-width="0.75"/>
<use href="#ar" transform="translate(726.15,228.78) rotate(23)" fill="#00ff00" stroke-width="0.75"/>
<use href="#ar" transform="translate(734.69,228.78) rotate(23)" fill="#00ff00" stroke-width="0.75"/>
<use href="#ar" transform="translate(743.22,228.78) rotate(23)" fill="#00ff00" stroke-width="0.75"/>
<use href="#ar" transform="translate(751.76,228.78) rotate(23)" fill="#00ff00" stroke-width="0.75"/>
<use href="#ar" transform="translate(760.29,219.32) rotate(23)" fill="#00ff00" stroke-width="0.75"/>
<use href="#ar" transform="translate(768.83,219.32) rotate(23)" fill="#00ff00" stroke-width="0.75"/>
<use href="#ar" transform="translate(777.36,219.32) rotate(21)" fill="#00ff00" stroke-width="0.75"/>
<use href="#ar" transform="translate(785.90,219.32) rotate(21)" fill="#00ff00" stroke-width="0.75"/>
<use href="#ar" transform="translate(794.44,228.78) rotate(21)" fill="#00ff00" stroke-width="0.75"/>
<use href="#ar" transform="translate(802.97,219.32) rotate(21)" fill="#00ff00" stroke-width="0.75"/>
<use href="#ar" transform="translate(811.51,219.32) rotate(21)" fill="#00ff00" stroke-width="0.75"/>
<use href="#ar" transform="translate(820.04,219.32) rotate(21)" fill="#00ff00" stroke-width="0.75"/>
<use href="#ar" transform="translate(828.58,219.32) rotate(21)" fill="#00ff00" stroke-width="0.75"/>
<use href="#ar" transform="translate(837.11,228.78) rotate(21)" fill="#00ff00" stroke-width="0.75"/>
<use href="#ar" transform="translate(845.65,228.78) rotate(21)" fill="#00ff00" stroke-width="0.75"/>
<use href="#ar" transform="translate(854.19,228.78) rotate(21)" fill="#00ff00" stroke-width="0.75"/>
<use href="#ar" transform="translate(862.72,228.78) rotate(21)" fill="#00ff00" stroke-width="0.75"/>
<use href="#ar" transform="translate(871.26,238.25) rotate(21)" fill="#00ff00" stroke-width="0.75"/>
<use href="#ar" transform="translate(879.79,228.78) rotate(21)" fill="#00ff00" stroke-width="0.75"/>
<use href="#ar" transform="translate(888.33,228.78) rotate(21)" fill="#00ff00" stroke-width="0.75"/>
<use href="#ar" transform="translate(896.86,228.78) rotate(21)" fill="#00ff00" stroke-width="0.75"/>
<use href="#ar" transform="translate(905.40,228.78) rotate(21)" fill="#00ff00" stroke-width="0.75"/>
<use href="#ar" transform="translate(913.94,228.78) rotate(21)" fill="#00ff00" stroke-width="0.75"/>
<use href="#ar" transform="translate(922.47,228.78) rotate(21)" fill="#00ff00" stroke-width="0.75"/>
<use href="#ar" transform="translate(931.01,238.25) rotate(21)" fill="#00ff00" stroke-width="0.75"/>
<use href="#ar" transform="translate(939.54,228.78) rotate(21)" fill="#00ff00" stroke-width="0.75"/>
<use href="#ar" transform="translate(948.08,238.25) rotate(21)" fill="#00ff00" stroke-width="0.75"/>
<use href="#ar" transform="translate(956.61,228.78) rotate(21)" fill="#00ff00" stroke-width="0.75"/>
<use href="#ar" transform="translate(965.15,238.25) rotate(21)" fill="#00ff00" stroke-width="0.75"/>
<use href="#ar" transform="translate(973.69,248.95) rotate(21)" fill="#ffff00" stroke-width="0.75"/>
<use href="#ar" transform="translate(982.22,248.95) rotate(21)" fill="#ffff00" stroke-width="0.75"/>
<use href="#ar" transform="translate(990.76,248.95) rotate(21)" fill="#ffff00" stroke-width="0.75"/>
<use href="#ar" transform="translate(999.29,248.95) rotate(21)" fill="#ffff00" stroke-width="0.75"/>
<use href="#ar" transform="translate(1007.83,248.95) rotate(21)" fill="#ffff00" stroke-width="0.75"/>
<use href="#ar" transform="translate(1016.36,248.95) rotate(21)" fill="#ffff00" stroke-width="0.75"/>
</g>
</svg>
</body></html>
